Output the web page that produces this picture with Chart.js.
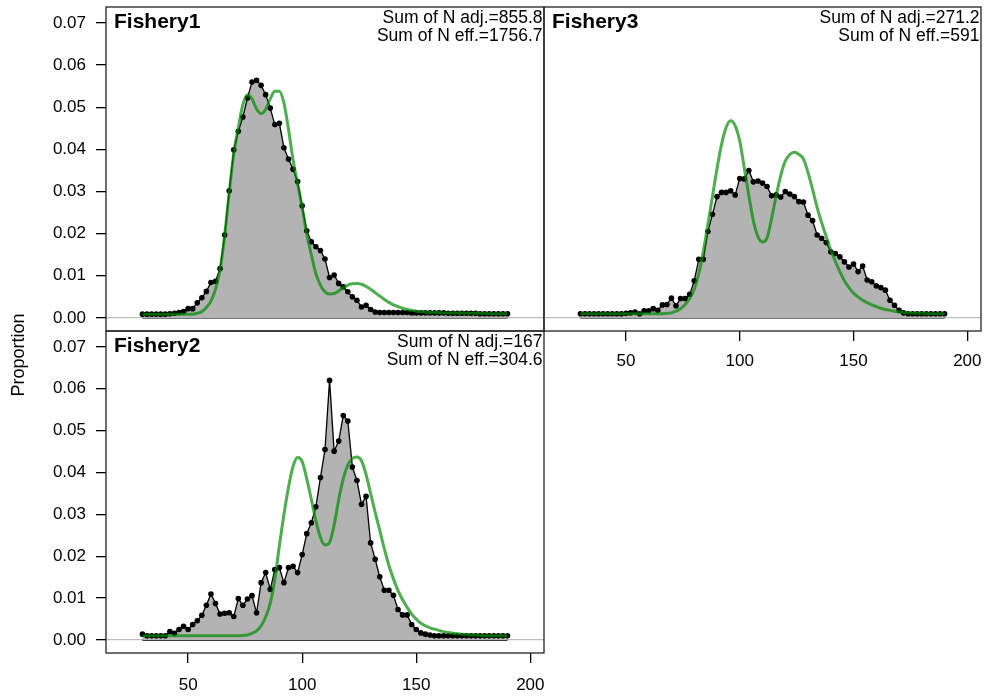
<!DOCTYPE html>
<html>
<head>
<meta charset="utf-8">
<script src="https://cdn.jsdelivr.net/npm/chart.js@4.4.1/dist/chart.umd.min.js"></script>
<style>
  body { margin: 0; background: #fff; }
  #wrap { position: relative; width: 985px; height: 696px; overflow: hidden; }
  #wrap canvas { position: absolute; left: 0; top: 0; }
  #ylab {
    position: absolute; left: -82px; top: 345px; width: 200px; height: 20px;
    line-height: 20px; text-align: center; transform: rotate(-90deg);
    font: 18px 'Liberation Sans', Arial, sans-serif; color: #000;
  }
</style>
</head>
<body>
<div id="wrap">
  <canvas id="fish1" width="985" height="696"></canvas>
  <canvas id="fish3" width="985" height="696"></canvas>
  <canvas id="fish2" width="985" height="696"></canvas>
  <div id="ylab">Proportion</div>
</div>
<script>
// length bins (every 2 units)
const lengths = [30,32,34,36,38,40,42,44,46,48,50,52,54,56,58,60,62,64,66,68,
  70,72,74,76,78,80,82,84,86,88,90,92,94,96,98,100,102,104,106,108,
  110,112,114,116,118,120,122,124,126,128,130,132,134,136,138,140,142,144,146,148,
  150,152,154,156,158,160,162,164,166,168,170,172,174,176,178,180,182,184,186,188,190];

const xTicks = [50, 100, 150, 200];
const yTicks = [0, 0.01, 0.02, 0.03, 0.04, 0.05, 0.06, 0.07];

// Fishery1
const fish1Obs = [0.0009,0.0009,0.0009,0.0009,0.0009,0.0009,0.0010,0.0011,0.0013,0.0015,
  0.0022,0.0022,0.0036,0.0048,0.0063,0.0084,0.0087,0.0117,0.0197,0.0302,
  0.0399,0.0443,0.0477,0.0522,0.0560,0.0564,0.0552,0.0530,0.0498,0.0459,
  0.0462,0.0404,0.0377,0.0353,0.0324,0.0266,0.0207,0.0181,0.0169,0.0160,
  0.0140,0.0096,0.0102,0.0082,0.0074,0.0062,0.0050,0.0042,0.0026,0.0030,
  0.0020,0.0014,0.0013,0.0013,0.0013,0.0013,0.0013,0.0013,0.0013,0.0012,
  0.0012,0.0012,0.0012,0.0012,0.0012,0.0012,0.0012,0.0011,0.0011,0.0011,
  0.0011,0.0011,0.0011,0.0011,0.0010,0.0010,0.0010,0.0010,0.0010,0.0010,0.0010];
const fish1Exp = [0.0009,0.0009,0.0009,0.0009,0.0009,0.0009,0.0009,0.0009,0.0009,0.0009,
  0.0009,0.0009,0.0011,0.0015,0.0025,0.0040,0.0068,0.0115,0.0195,0.0298,
  0.0390,0.0452,0.0506,0.0530,0.0520,0.0496,0.0485,0.0495,0.0520,0.0538,
  0.0538,0.0510,0.0448,0.0375,0.0318,0.0262,0.0200,0.0150,0.0105,0.0078,
  0.0062,0.0057,0.0058,0.0064,0.0072,0.0078,0.0081,0.0082,0.0080,0.0075,
  0.0068,0.0060,0.0052,0.0044,0.0037,0.0031,0.0027,0.0023,0.0020,0.0018,
  0.0016,0.0015,0.0014,0.0013,0.0013,0.0013,0.0012,0.0012,0.0012,0.0012,
  0.0012,0.0011,0.0011,0.0011,0.0011,0.0011,0.0010,0.0010,0.0010,0.0010,0.0010];

// Fishery2
const fish2Obs = [0.0014,0.0010,0.0010,0.0010,0.0010,0.0010,0.0020,0.0016,0.0025,0.0033,
  0.0025,0.0037,0.0046,0.0059,0.0083,0.0110,0.0087,0.0062,0.0064,0.0065,
  0.0056,0.0099,0.0083,0.0098,0.0106,0.0065,0.0137,0.0161,0.0121,0.0168,
  0.0173,0.0137,0.0173,0.0176,0.0161,0.0204,0.0254,0.0280,0.0318,0.0388,
  0.0455,0.0620,0.0451,0.0475,0.0536,0.0523,0.0413,0.0381,0.0324,0.0343,
  0.0232,0.0193,0.0151,0.0119,0.0119,0.0107,0.0073,0.0060,0.0060,0.0037,
  0.0025,0.0017,0.0014,0.0012,0.0010,0.0010,0.0010,0.0010,0.0010,0.0010,
  0.0010,0.0010,0.0010,0.0010,0.0010,0.0010,0.0010,0.0010,0.0010,0.0010,0.0010];
const fish2Exp = [0.0010,0.0010,0.0010,0.0010,0.0010,0.0010,0.0010,0.0010,0.0010,0.0010,
  0.0010,0.0010,0.0010,0.0010,0.0010,0.0010,0.0010,0.0010,0.0010,0.0010,
  0.0010,0.0010,0.0011,0.0012,0.0016,0.0022,0.0034,0.0055,0.0088,0.0145,
  0.0225,0.0300,0.0365,0.0415,0.0436,0.0426,0.0385,0.0336,0.0285,0.0245,
  0.0227,0.0233,0.0275,0.0335,0.0385,0.0418,0.0434,0.0437,0.0428,0.0395,
  0.0350,0.0305,0.0262,0.0218,0.0178,0.0146,0.0118,0.0096,0.0078,0.0062,
  0.0050,0.0040,0.0034,0.0029,0.0026,0.0023,0.0020,0.0018,0.0016,0.0015,
  0.0014,0.0013,0.0012,0.0012,0.0011,0.0010,0.0010,0.0010,0.0010,0.0010,0.0010];

// Fishery3
const fish3Obs = [0.0010,0.0010,0.0010,0.0010,0.0010,0.0010,0.0010,0.0010,0.0010,0.0010,
  0.0011,0.0012,0.0014,0.0010,0.0017,0.0017,0.0022,0.0018,0.0031,0.0032,
  0.0047,0.0029,0.0046,0.0046,0.0056,0.0088,0.0139,0.0139,0.0205,0.0246,
  0.0288,0.0298,0.0298,0.0302,0.0292,0.0331,0.0330,0.0350,0.0323,0.0325,
  0.0320,0.0312,0.0290,0.0292,0.0287,0.0300,0.0294,0.0288,0.0276,0.0275,
  0.0244,0.0231,0.0197,0.0189,0.0179,0.0157,0.0153,0.0145,0.0133,0.0121,
  0.0128,0.0110,0.0123,0.0090,0.0086,0.0076,0.0072,0.0066,0.0042,0.0030,
  0.0018,0.0012,0.0010,0.0010,0.0010,0.0010,0.0010,0.0010,0.0010,0.0010,0.0010];
const fish3Exp = [0.0010,0.0010,0.0010,0.0010,0.0010,0.0010,0.0010,0.0010,0.0010,0.0010,
  0.0010,0.0010,0.0010,0.0010,0.0010,0.0010,0.0010,0.0010,0.0010,0.0011,
  0.0012,0.0016,0.0022,0.0032,0.0046,0.0068,0.0105,0.0158,0.0222,0.0288,
  0.0354,0.0412,0.0452,0.0468,0.0456,0.0420,0.0356,0.0290,0.0230,0.0193,
  0.0180,0.0190,0.0236,0.0290,0.0338,0.0372,0.0388,0.0393,0.0388,0.0377,
  0.0345,0.0305,0.0262,0.0226,0.0193,0.0161,0.0134,0.0110,0.0088,0.0072,
  0.0059,0.0050,0.0042,0.0036,0.0031,0.0027,0.0023,0.0020,0.0018,0.0016,
  0.0014,0.0013,0.0012,0.0012,0.0011,0.0011,0.0010,0.0010,0.0010,0.0010,0.0010];

const FONT = "'Liberation Sans', Arial, sans-serif";
Chart.defaults.font.family = FONT;
Chart.defaults.color = '#000';

const toXY = vals => vals.map((v, i) => ({ x: lengths[i], y: v }));

// no extra room for overhanging tick labels, panels touch each other
const noPad = s => { s.paddingTop = 0; s.paddingBottom = 0; s.paddingLeft = 0; s.paddingRight = 0; };

// frame + labels inside each panel
const panelText = {
    id: 'panelText',
    afterDraw(chart, args, opts) {
        const a = chart.chartArea;
        const ctx = chart.ctx;
        ctx.save();
        ctx.strokeStyle = '#222';
        ctx.lineWidth = 1.3;
        ctx.strokeRect(a.left, a.top, a.right - a.left, a.bottom - a.top);
        ctx.fillStyle = '#000';
        ctx.textBaseline = 'middle';
        ctx.font = 'bold 21px ' + FONT;
        ctx.textAlign = 'left';
        ctx.fillText(opts.title, a.left + 8, a.top + 15);
        ctx.font = '17.5px ' + FONT;
        ctx.textAlign = 'right';
        ctx.fillText(opts.adj, a.right - 1.5, a.top + 11.5);
        ctx.fillText(opts.eff, a.right - 1.5, a.top + 29);
        ctx.restore();
    }
};

function makePanel(id, cfg) {
    new Chart(document.getElementById(id), {
        type: 'line',
        data: {
            datasets: [{
                label: 'expected',
                data: toXY(cfg.exp),
                borderColor: 'rgba(0,139,0,0.7)',
                borderWidth: 3,
                pointRadius: 0,
                cubicInterpolationMode: 'monotone',
                order: 0
            }, {
                label: 'observed',
                data: toXY(cfg.obs),
                borderColor: '#000',
                borderWidth: 1.3,
                pointRadius: 2.8,
                pointBackgroundColor: '#000',
                pointBorderWidth: 0,
                fill: 'origin',
                backgroundColor: '#b3b3b3',
                order: 1
            }, {
                label: 'base',
                data: [{ x: lengths[0], y: 0 }, { x: lengths[lengths.length - 1], y: 0 }],
                borderColor: '#000',
                borderWidth: 1.3,
                pointRadius: 0,
                order: 2
            }]
        },
        options: {
            responsive: false,
            animation: false,
            events: [],
            layout: { padding: cfg.pad },
            plugins: {
                legend: { display: false },
                tooltip: { enabled: false },
                panelText: { title: cfg.title, adj: cfg.adj, eff: cfg.eff }
            },
            scales: {
                x: {
                    type: 'linear',
                    min: 14,
                    max: 206,
                    display: cfg.showX,
                    afterBuildTicks: s => { s.ticks = xTicks.map(v => ({ value: v })); },
                    afterFit: s => { s.height = cfg.xh; noPad(s); },
                    border: { display: false },
                    grid: { drawOnChartArea: false, tickLength: 10, color: '#000', lineWidth: 1.3 },
                    ticks: { padding: cfg.xpad, font: { size: 17 }, maxRotation: 0, autoSkip: false }
                },
                y: {
                    type: 'linear',
                    min: -0.0031,
                    max: 0.0738,
                    afterBuildTicks: s => { s.ticks = yTicks.map(v => ({ value: v })); },
                    afterFit: s => { s.width = cfg.showY ? 100 : 0; noPad(s); },
                    border: { display: false },
                    grid: {
                        color: c => (c.tick && c.tick.value === 0) ? '#bdbdbd' : 'rgba(0,0,0,0)',
                        tickColor: '#000',
                        tickLength: 10,
                        drawTicks: cfg.showY,
                        lineWidth: 1.3
                    },
                    ticks: {
                        display: cfg.showY,
                        padding: 10,
                        font: { size: 17 },
                        callback: v => v.toFixed(2)
                    }
                }
            }
        },
        plugins: [panelText]
    });
}

makePanel('fish1', {
    obs: fish1Obs, exp: fish1Exp, title: 'Fishery1',
    adj: 'Sum of N adj.=855.8', eff: 'Sum of N eff.=1756.7',
    showX: false, showY: true, xh: 0, xpad: 10,
    pad: { left: 6, top: 7, right: 441, bottom: 365 }
});
makePanel('fish3', {
    obs: fish3Obs, exp: fish3Exp, title: 'Fishery3',
    adj: 'Sum of N adj.=271.2', eff: 'Sum of N eff.=591',
    showX: true, showY: false, xh: 40, xpad: 10,
    pad: { left: 544, top: 7, right: 2, bottom: 325 }
});
makePanel('fish2', {
    obs: fish2Obs, exp: fish2Exp, title: 'Fishery2',
    adj: 'Sum of N adj.=167', eff: 'Sum of N eff.=304.6',
    showX: true, showY: true, xh: 43, xpad: 12,
    pad: { left: 6, top: 331, right: 441, bottom: 0 }
});
</script>
</body>
</html>
